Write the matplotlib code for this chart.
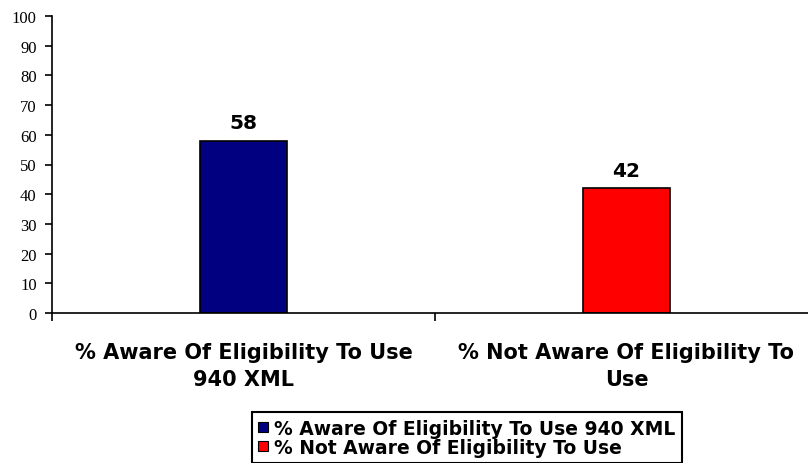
import matplotlib
matplotlib.use('Agg')
import matplotlib.pyplot as plt
from matplotlib.patches import Patch

# data
categories = ['% Aware Of Eligibility To Use\n940 XML', '% Not Aware Of Eligibility To\nUse']
series_names = ['% Aware Of Eligibility To Use 940 XML', '% Not Aware Of Eligibility To Use']
values = [58, 42]
colors = ['#000080', '#FF0000']
yticks = [0, 10, 20, 30, 40, 50, 60, 70, 80, 90, 100]

fig = plt.figure(figsize=(8.08, 4.64), dpi=100)
# axes runs a little past the right edge, like the original
ax = fig.add_axes([52 / 808, 150 / 464, 766 / 808, 297 / 464])

x = list(range(len(values)))
bars = ax.bar(x, values, width=0.227, color=colors, edgecolor='black', linewidth=1.2)

for b, v in zip(bars, values):
    ax.annotate(str(v), (b.get_x() + b.get_width() / 2, v), xytext=(0, 9),
                textcoords='offset points', ha='center', va='baseline',
                fontsize=14.5, fontweight='bold', family='DejaVu Sans')

ax.set_xlim(-0.5, 1.5)
ax.set_ylim(0, 100)
ax.set_yticks(yticks)
ax.set_yticklabels([str(t) for t in yticks], family='Liberation Serif', fontsize=12)
ax.tick_params(axis='y', length=5, width=1.2, pad=6)

ax.set_xticks(x)
ax.set_xticklabels(categories, fontsize=15, fontweight='bold', family='DejaVu Sans',
                   linespacing=1.4)
ax.tick_params(axis='x', length=0, pad=21)
ax.set_xticks([-0.5, 0.5], minor=True)
ax.tick_params(axis='x', which='minor', length=6, width=1.2)

for s in ['top', 'right']:
    ax.spines[s].set_visible(False)
ax.spines['left'].set_linewidth(1.2)
ax.spines['bottom'].set_linewidth(1.2)

handles = [Patch(facecolor=c, edgecolor='black', linewidth=0.8) for c in colors]
leg = fig.legend(handles, series_names, loc='upper center', bbox_to_anchor=(467 / 808, 51 / 464),
                 prop={'weight': 'bold', 'size': 13.5, 'family': 'DejaVu Sans'},
                 handlelength=0.5, handleheight=0.5, handletextpad=0.35,
                 labelspacing=0.0, borderpad=0.35, borderaxespad=0, fancybox=False, framealpha=1)
leg.get_frame().set_edgecolor('black')
leg.get_frame().set_linewidth(1.5)

fig.savefig('out.png', dpi=100)
